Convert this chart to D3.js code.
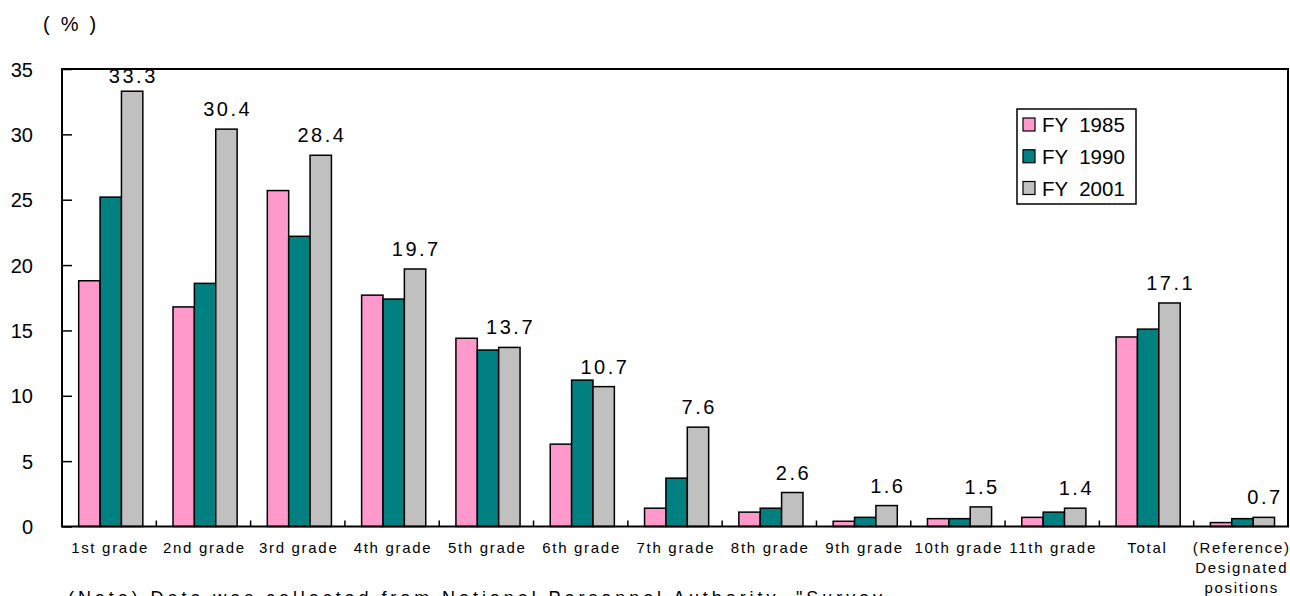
<!DOCTYPE html>
<html>
<head>
<meta charset="utf-8">
<script src="https://cdn.jsdelivr.net/npm/d3@7/dist/d3.min.js"></script>
<style>
  html, body { margin: 0; padding: 0; background: #fff; }
  svg { display: block; }
</style>
</head>
<body>
<svg id="chart" width="1290" height="596"></svg>
<script>
// Category labels (line breaks split with "\n")
const categories = [
  "1st grade", "2nd grade", "3rd grade", "4th grade", "5th grade",
  "6th grade", "7th grade", "8th grade", "9th grade", "10th grade",
  "11th grade", "Total", "(Reference)\nDesignated\npositions"
];

// Series values (%)
const fy1985 = [18.8, 16.8, 25.7, 17.7, 14.4, 6.3, 1.4, 1.1, 0.4, 0.6, 0.7, 14.5, 0.3];
const fy1990 = [25.2, 18.6, 22.2, 17.4, 13.5, 11.2, 3.7, 1.4, 0.7, 0.6, 1.1, 15.1, 0.6];
const fy2001 = [33.3, 30.4, 28.4, 19.7, 13.7, 10.7, 7.6, 2.6, 1.6, 1.5, 1.4, 17.1, 0.7];

const seriesNames = ["FY  1985", "FY  1990", "FY  2001"];
const seriesValues = [fy1985, fy1990, fy2001];
const seriesColors = ["#FF99CC", "#008080", "#C0C0C0"];

const yTicks = [0, 5, 10, 15, 20, 25, 30, 35];
const unitLabel = "(%)";
const noteText = "(Note) Data was collected from National Personnel Authority, \"Survey";

const svg = d3.select("#chart");
const plot = { left: 62, right: 1288, top: 69, bottom: 526.5 };

const x = d3.scaleBand().domain(categories).range([plot.left, plot.right]).padding(0);
const bw = x.bandwidth();
const xs = d3.scaleBand().domain(seriesNames).range([bw * 0.177, bw * 0.857]).padding(0);
const y = d3.scaleLinear().domain([0, 35]).range([plot.bottom, plot.top]);

// Bars
const rows = categories.map((c, i) => ({ cat: c, vals: seriesValues.map(s => s[i]) }));
const groups = svg.append("g").selectAll("g").data(rows).join("g")
  .attr("transform", d => `translate(${x(d.cat)},0)`);
groups.selectAll("rect")
  .data(d => d.vals.map((v, k) => ({ v, k })))
  .join("rect")
  .attr("x", d => xs(seriesNames[d.k]))
  .attr("width", xs.bandwidth())
  .attr("y", d => y(d.v))
  .attr("height", d => y(0) - y(d.v))
  .attr("fill", d => seriesColors[d.k])
  .attr("stroke", "#000")
  .attr("stroke-width", 1.5);

// Value labels for FY 2001
groups.append("text")
  .attr("x", d => xs(seriesNames[2]) + xs.bandwidth() / 2 + 1.2)
  .attr("y", d => Math.max(y(d.vals[2]) - 13, plot.top + 14))
  .attr("text-anchor", "middle")
  .attr("font-family", "Liberation Sans, Arial, sans-serif")
  .attr("font-size", 20)
  .attr("letter-spacing", 2.5)
  .attr("fill", "#000")
  .text(d => d.vals[2].toFixed(1));

// Y axis: inward ticks, labels at left
const yAxis = d3.axisLeft(y).tickValues(yTicks).tickSize(-10).tickPadding(30);
const yg = svg.append("g").attr("transform", `translate(${plot.left},0)`).call(yAxis);
yg.select(".domain").remove();
yg.selectAll(".tick line").attr("stroke", "#000").attr("stroke-width", 1.5);
yg.selectAll(".tick text")
  .attr("x", 33 - plot.left)
  .attr("dy", "0.36em")
  .attr("font-family", "Liberation Sans, Arial, sans-serif")
  .attr("font-size", 20)
  .attr("fill", "#000");

// Bottom ticks at category boundaries
svg.append("g").selectAll("line")
  .data(categories.slice(1))
  .join("line")
  .attr("x1", d => x(d)).attr("x2", d => x(d))
  .attr("y1", plot.bottom).attr("y2", plot.bottom - 6)
  .attr("stroke", "#000").attr("stroke-width", 1.5);

// Plot frame
svg.append("rect")
  .attr("x", plot.left).attr("y", plot.top)
  .attr("width", plot.right - plot.left).attr("height", plot.bottom - plot.top)
  .attr("fill", "none").attr("stroke", "#000").attr("stroke-width", 2);

// Category labels
const catText = svg.append("g").selectAll("text").data(categories).join("text")
  .attr("x", d => x(d) + bw / 2 + 0.9)
  .attr("y", 553)
  .attr("text-anchor", "middle")
  .attr("font-family", "Liberation Sans, Arial, sans-serif")
  .attr("font-size", 15)
  .attr("letter-spacing", 1.7)
  .attr("fill", "#000");
catText.selectAll("tspan")
  .data(d => d.split("\n").map(t => ({ t, cx: x(d) + bw / 2 + 0.9 })))
  .join("tspan")
  .attr("x", d => d.cx)
  .attr("dy", (d, i) => i === 0 ? 0 : 20)
  .text(d => d.t);

// Unit label
svg.append("text")
  .attr("x", 43).attr("y", 31)
  .attr("font-family", "Liberation Sans, Arial, sans-serif")
  .attr("font-size", 20)
  .attr("letter-spacing", 11)
  .attr("fill", "#000")
  .text(unitLabel);

// Legend
const legend = svg.append("g").attr("transform", "translate(1017,109)");
legend.append("rect")
  .attr("width", 119).attr("height", 95)
  .attr("fill", "#fff").attr("stroke", "#000").attr("stroke-width", 1.5);
const ly = d3.scalePoint().domain(seriesNames).range([15.5, 79]);
const li = legend.selectAll("g.item").data(seriesNames).join("g")
  .attr("class", "item")
  .attr("transform", d => `translate(0,${ly(d)})`);
li.append("rect")
  .attr("x", 6).attr("y", -6.5).attr("width", 12).attr("height", 13)
  .attr("fill", (d, i) => seriesColors[i])
  .attr("stroke", "#000").attr("stroke-width", 1.2);
li.append("text")
  .attr("x", 25).attr("y", 7.5)
  .attr("font-family", "Liberation Sans, Arial, sans-serif")
  .attr("font-size", 20.5)
  .attr("fill", "#000")
  .style("white-space", "pre")
  .text(d => d);

// Footnote (runs past the bottom edge)
svg.append("text")
  .attr("x", 68).attr("y", 604)
  .attr("font-family", "Liberation Sans, Arial, sans-serif")
  .attr("font-size", 18)
  .attr("textLength", 814)
  .attr("lengthAdjust", "spacing")
  .attr("fill", "#000")
  .text(noteText);
</script>
</body>
</html>
